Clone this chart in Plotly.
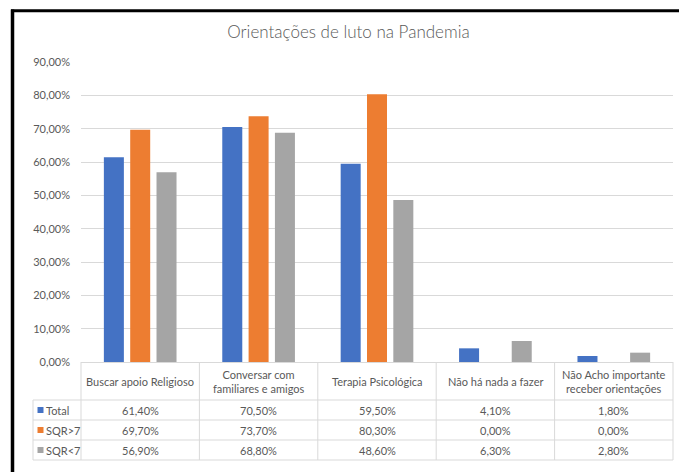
import plotly.graph_objects as go

categories = ["Buscar apoio Religioso", "Conversar com<br>familiares e amigos",
              "Terapia Psicológica", "Não há nada a fazer",
              "Não Acho importante<br>receber orientações"]
series_names = ["Total", "SQR>7", "SQR<7"]
total = [61.4, 70.5, 59.5, 4.1, 1.8]
sqr_gt7 = [69.7, 73.7, 80.3, 0.0, 0.0]
sqr_lt7 = [56.9, 68.8, 48.6, 6.3, 2.8]
series_values = [total, sqr_gt7, sqr_lt7]
colors = ["#4472C4", "#ED7D31", "#A5A5A5"]
y_ticks = [0, 10, 20, 30, 40, 50, 60, 70, 80, 90]

FONT = "Lato, Liberation Sans, sans-serif"
TXT = "#595959"
GRID = "#d9d9d9"
FS = 11

W, H = 680, 472
L, R, T, B = 81, 673, 62, 362

def xp(X):
    return (X - L) / (R - L)

def yp(Y):
    return (B - Y) / (B - T)

def fmt(v):
    return f"{v:.2f}".replace(".", ",") + "%"

fig = go.Figure()
for name, vals, c in zip(series_names, series_values, colors):
    fig.add_trace(go.Bar(x=list(range(len(categories))), y=vals, name=name,
                         marker=dict(color=c, line=dict(width=0)), showlegend=False))

annotations = []
shapes = []
for i, cat in enumerate(categories):
    annotations.append(dict(x=i, xref="x", y=yp(381), yref="paper", text=cat,
                            showarrow=False, font=dict(family=FONT, size=FS, color=TXT),
                            xanchor="center", yanchor="middle", align="center"))
row_lines = [400, 420, 440, 460]
row_y = [410, 430, 450]
for r, (name, vals, c) in enumerate(zip(series_names, series_values, colors)):
    for i, v in enumerate(vals):
        annotations.append(dict(x=i, xref="x", y=yp(row_y[r]), yref="paper", text=fmt(v),
                                showarrow=False, font=dict(family=FONT, size=FS, color=TXT),
                                xanchor="center", yanchor="middle"))
    annotations.append(dict(x=xp(44), xref="paper", y=yp(row_y[r]), yref="paper", text=name,
                            showarrow=False, font=dict(family=FONT, size=FS, color=TXT),
                            xanchor="left", yanchor="middle"))
    shapes.append(dict(type="rect", xref="paper", yref="paper",
                       x0=xp(37.5), x1=xp(43.5), y0=yp(row_y[r] - 3), y1=yp(row_y[r] + 3),
                       fillcolor=c, line=dict(width=0)))

n = len(categories)
for i in range(n + 1):
    shapes.append(dict(type="line", xref="paper", yref="paper", x0=i / n, x1=i / n,
                       y0=yp(B), y1=yp(row_lines[-1]), line=dict(color=GRID, width=1)))
shapes.append(dict(type="line", xref="paper", yref="paper", x0=xp(33), x1=xp(33),
                   y0=yp(row_lines[0]), y1=yp(row_lines[-1]), line=dict(color=GRID, width=1)))
for Y in row_lines:
    shapes.append(dict(type="line", xref="paper", yref="paper", x0=xp(33), x1=1,
                       y0=yp(Y), y1=yp(Y), line=dict(color=GRID, width=1)))

# black frame (left and top)
shapes.append(dict(type="line", xref="paper", yref="paper", x0=xp(12.5), x1=xp(12.5),
                   y0=yp(9.5), y1=yp(472), line=dict(color="black", width=3.5)))
shapes.append(dict(type="line", xref="paper", yref="paper", x0=xp(11), x1=xp(679),
                   y0=yp(10.8), y1=yp(10.8), line=dict(color="black", width=3)))

fig.update_layout(
    width=W, height=H,
    margin=dict(l=L, r=W - R, t=T, b=H - B, pad=0),
    paper_bgcolor="white", plot_bgcolor="white",
    barmode="group", bargap=0.333, bargroupgap=0.24,
    title=dict(text="Orientações de luto na Pandemia", x=348.5 / W, xanchor="center",
               y=1 - 32 / H, yanchor="middle", xref="container", yref="container",
               font=dict(family=FONT, size=17, color=TXT, weight=300)),
    xaxis=dict(range=[-0.5, n - 0.5], showticklabels=False, ticks="", showgrid=False,
               zeroline=False, showline=True, linecolor=GRID, linewidth=1, fixedrange=True),
    yaxis=dict(range=[0, 90], tickvals=y_ticks, ticktext=[fmt(v) for v in y_ticks],
               showgrid=True, gridcolor=GRID, gridwidth=1, zeroline=False, ticks="",
               tickfont=dict(family=FONT, size=FS, color=TXT), ticklabelstandoff=10),
    annotations=annotations,
    shapes=shapes,
    showlegend=False,
)

fig.write_html("out.html",
               post_script="document.body.style.margin='0';document.body.style.overflow='hidden';"
                           "document.documentElement.style.overflow='hidden';")
